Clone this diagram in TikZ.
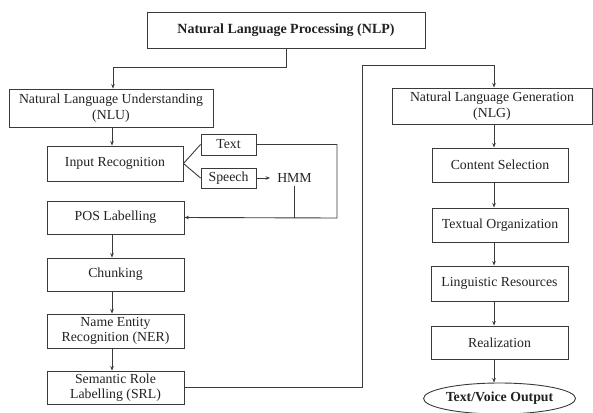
\documentclass[tikz,border=0pt]{standalone}
\usepackage{fontspec}
\setmainfont{Liberation Serif}
\usetikzlibrary{arrows.meta,shapes.geometric}
\definecolor{linecol}{HTML}{3A3A3A}
\definecolor{txtcol}{HTML}{222222}
\newcommand{\dfs}{\fontsize{13.8}{15.5}\selectfont}
\begin{document}
\begin{tikzpicture}[x=1pt,y=-1pt,
  box/.style={draw=linecol, line width=0.9pt, inner sep=0pt, align=center, text=txtcol, font=\dfs},
  plain/.style={inner xsep=7pt, inner ysep=3pt, text=txtcol, font=\dfs},
  conn/.style={draw=linecol, line width=0.9pt},
  arr/.style={conn, -{Stealth[length=4.5pt,width=3.5pt]}}]
\useasboundingbox (0,0) rectangle (593,412);
% nodes
\node[box, minimum width=278pt, minimum height=36pt, font=\fontsize{14}{16}\selectfont\bfseries] (nlp) at (286,30) {Natural Language Processing (NLP)};
\node[box, minimum width=204pt, minimum height=38pt] (nlu) at (111,108) {Natural Language Understanding\\(NLU)};
\node[box, minimum width=136pt, minimum height=35pt] (ir) at (115,163.5) {Input Recognition};
\node[box, minimum width=55pt, minimum height=21pt] (text) at (228.5,144.5) {Text};
\node[box, minimum width=55pt, minimum height=20pt] (speech) at (228.5,178) {Speech};
\node[plain] (hmm) at (294.5,178) {HMM};
\node[box, minimum width=137pt, minimum height=33pt] (pos) at (115.5,217.5) {POS Labelling};
\node[box, minimum width=137pt, minimum height=33pt] (chunk) at (115.5,274.5) {Chunking};
\node[box, minimum width=137pt, minimum height=34pt] (ner) at (115.5,331) {Name Entity\\Recognition (NER)};
\node[box, minimum width=137pt, minimum height=33pt] (srl) at (115.5,387.5) {Semantic Role\\Labelling (SRL)};
\node[box, minimum width=200pt, minimum height=36pt] (nlg) at (492,106) {Natural Language Generation\\(NLG)};
\node[box, minimum width=136pt, minimum height=34pt] (cs) at (500,165) {Content Selection};
\node[box, minimum width=136pt, minimum height=34pt] (to) at (500,225) {Textual Organization};
\node[box, minimum width=137pt, minimum height=35pt] (lr) at (499.5,283.5) {Linguistic Resources};
\node[box, minimum width=137pt, minimum height=33pt] (real) at (499.5,342.5) {Realization};
\node[box, ellipse, minimum width=143pt, minimum height=31pt, font=\dfs\bfseries] (out) at (499.5,398.5) {Text/Voice Output};
% helper coordinates
\coordinate (lc) at (112,0);
\coordinate (rc) at (494,0);
\coordinate (j1) at (113,67);
\coordinate (j2) at (362,65);
\coordinate (j3) at (337,218);
% connectors
\draw[arr] (nlp.south) |- (j1) -- (nlu.north -| j1);
\draw[arr] (nlu.south -| lc) -- (ir.north -| lc);
\draw[conn] (ir.east) -- (text.west);
\draw[conn] (ir.east) -- (speech.west);
\draw[arr] (speech.east) -- (hmm.west);
\draw[arr] (text.east) -| (j3) -- (pos.east);
\draw[conn] (hmm.south) -- (hmm.south |- j3);
\draw[arr] (pos.south -| lc) -- (chunk.north -| lc);
\draw[arr] (chunk.south -| lc) -- (ner.north -| lc);
\draw[arr] (ner.south -| lc) -- (srl.north -| lc);
\draw[arr] (srl.east) -| (j2) -| (nlg.north -| rc);
\draw[arr] (nlg.south -| rc) -- (cs.north -| rc);
\draw[arr] (cs.south -| rc) -- (to.north -| rc);
\draw[arr] (to.south -| rc) -- (lr.north -| rc);
\draw[arr] (lr.south -| rc) -- (real.north -| rc);
\draw[arr] (real.south -| rc) -- (out.north -| rc);
\end{tikzpicture}
\end{document}
